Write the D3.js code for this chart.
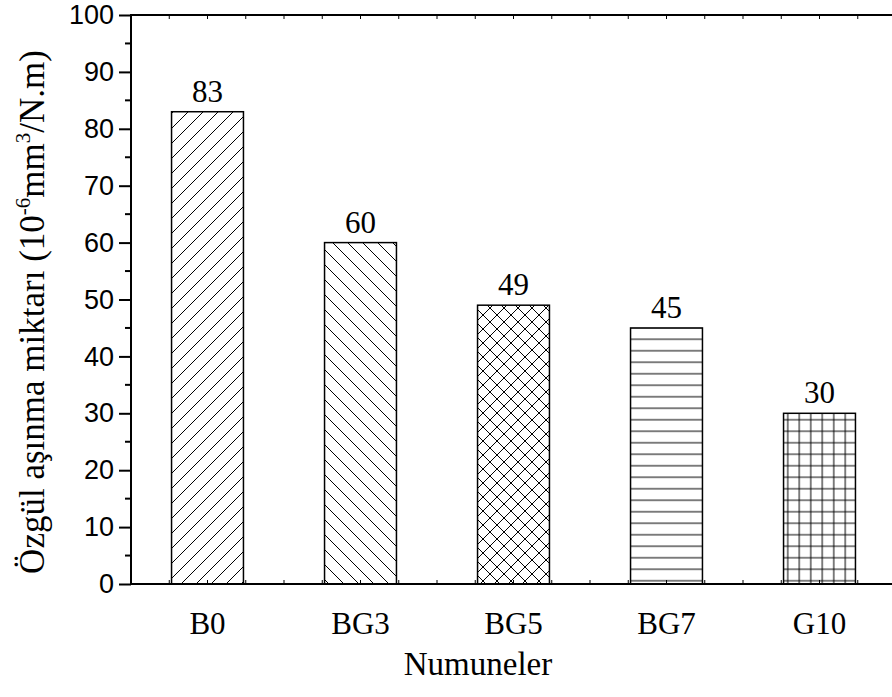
<!DOCTYPE html>
<html>
<head>
<meta charset="utf-8">
<script src="https://cdn.jsdelivr.net/npm/d3@7/dist/d3.min.js"></script>
<style>
  html, body { margin: 0; padding: 0; background: #fff; }
  svg { display: block; }
</style>
</head>
<body>
<svg id="chart" width="892" height="697"></svg>
<script>
// Specific wear rate per sample
const categories = ["B0", "BG3", "BG5", "BG7", "G10"];
const values = [83, 60, 49, 45, 30];
const yTicks = [0, 10, 20, 30, 40, 50, 60, 70, 80, 90, 100];
const hatches = ["fwd", "back", "cross", "horiz", "grid"];

const serif = "'Liberation Serif', 'Times New Roman', serif";
const sans = "'Liberation Sans', Arial, sans-serif";

const svg = d3.select("#chart");
const plotL = 131, plotR = 896, plotT = 15, plotB = 584;

const x = d3.scaleBand().domain(categories).range([plotL, plotR])
  .paddingInner(0.53).paddingOuter(0.265);
const y = d3.scaleLinear().domain([0, 100]).range([plotB, plotT]);

// Hatch patterns
const defs = svg.append("defs");
function pattern(id, size, d) {
  const p = defs.append("pattern").attr("id", id)
    .attr("patternUnits", "userSpaceOnUse")
    .attr("width", size).attr("height", size);
  p.append("rect").attr("width", size).attr("height", size).attr("fill", "#fff");
  p.append("path").attr("d", d).attr("stroke", "#000")
    .attr("stroke-width", 1).attr("fill", "none");
}
pattern("fwd", 15, "M0,15L15,0M-3,3L3,-3M12,18L18,12");
pattern("back", 15, "M0,0L15,15M-3,12L3,18M12,-3L18,3");
pattern("cross", 14, "M0,14L14,0M-3,3L3,-3M11,17L17,11M0,0L14,14M-3,11L3,17M11,-3L17,3");
pattern("horiz", 11.5, "M0,5.75H11.5");
pattern("grid", 11.5, "M0,5.75H11.5M5.75,0V11.5");

// Bars
svg.append("g").selectAll("rect").data(categories).join("rect")
  .attr("x", d => x(d))
  .attr("y", (d, i) => y(values[i]))
  .attr("width", x.bandwidth())
  .attr("height", (d, i) => y(0) - y(values[i]))
  .attr("fill", (d, i) => `url(#${hatches[i]})`)
  .attr("stroke", "#000").attr("stroke-width", 1.5);

// Value labels
svg.append("g").selectAll("text").data(categories).join("text")
  .attr("x", d => x(d) + x.bandwidth() / 2)
  .attr("y", (d, i) => y(values[i]) - 10)
  .attr("text-anchor", "middle")
  .style("font-family", serif)
  .style("font-size", "31px")
  .text((d, i) => values[i]);

// Left axis
const yAxis = d3.axisLeft(y).tickValues(yTicks).tickSize(12).tickPadding(5);
const gy = svg.append("g").attr("transform", `translate(${plotL},0)`).call(yAxis);
gy.select(".domain").remove();
gy.selectAll(".tick line").attr("stroke-width", 2);
gy.selectAll(".tick text")
  .style("font-family", sans)
  .style("font-size", "27px").attr("fill", "#000");
// Minor ticks
const minor = d3.range(5, 100, 10);
svg.append("g").selectAll("line").data(minor).join("line")
  .attr("x1", plotL - 6).attr("x2", plotL)
  .attr("y1", d => y(d)).attr("y2", d => y(d))
  .attr("stroke", "#000").attr("stroke-width", 2);

// Frame lines
svg.append("line").attr("x1", plotL).attr("x2", plotL).attr("y1", plotT - 1).attr("y2", plotB + 1)
  .attr("stroke", "#000").attr("stroke-width", 2);
svg.append("line").attr("x1", plotL - 1).attr("x2", 892).attr("y1", plotT).attr("y2", plotT)
  .attr("stroke", "#000").attr("stroke-width", 2);
svg.append("line").attr("x1", plotL - 1).attr("x2", 892).attr("y1", plotB).attr("y2", plotB)
  .attr("stroke", "#000").attr("stroke-width", 2);

// Small inward ticks along top and bottom
const qPos = d3.range(1, 20).map(k => plotL + k * x.step() / 4);
svg.append("g").selectAll("line").data(qPos).join("line")
  .attr("x1", d => d).attr("x2", d => d).attr("y1", plotT).attr("y2", plotT + 4)
  .attr("stroke", "#000").attr("stroke-width", 1);
svg.append("g").selectAll("line").data(qPos).join("line")
  .attr("x1", d => d).attr("x2", d => d).attr("y1", plotB).attr("y2", plotB - 4)
  .attr("stroke", "#000").attr("stroke-width", 1);

// Category labels
const xAxis = d3.axisBottom(x).tickSize(0).tickPadding(28);
const gx = svg.append("g").attr("transform", `translate(0,${plotB})`).call(xAxis);
gx.select(".domain").remove();
gx.selectAll(".tick text")
  .style("font-family", serif)
  .style("font-size", "31px").attr("fill", "#000");

// Axis titles
svg.append("text")
  .attr("x", 478).attr("y", 675)
  .attr("text-anchor", "middle")
  .style("font-family", serif)
  .style("font-size", "33px")
  .text("Numuneler");

const yt = svg.append("text")
  .attr("transform", "translate(44,312) rotate(-90)")
  .attr("text-anchor", "middle")
  .style("font-family", serif)
  .style("font-size", "35px");
yt.append("tspan").text("Özgül aşınma miktarı (10");
yt.append("tspan").style("font-size", "21px").attr("dy", -14).text("-6");
yt.append("tspan").attr("dy", 14).text("mm");
yt.append("tspan").style("font-size", "21px").attr("dy", -14).text("3");
yt.append("tspan").attr("dy", 14).text("/N.m)");
</script>
</body>
</html>
